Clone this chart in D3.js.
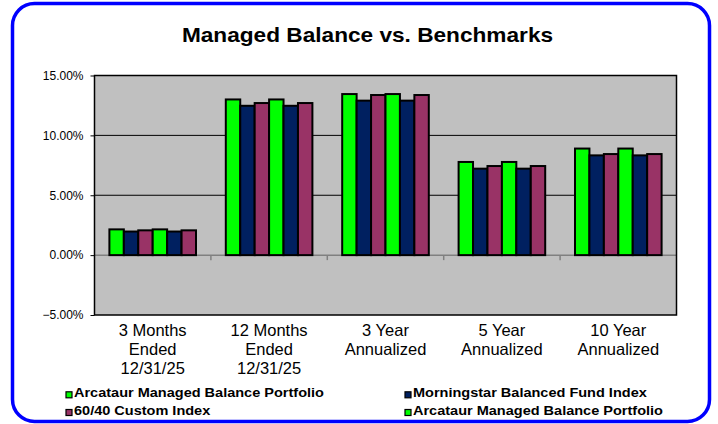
<!DOCTYPE html>
<html>
<head>
<meta charset="utf-8">
<script src="https://cdn.jsdelivr.net/npm/d3@7"></script>
<style>
  body { margin: 0; background: #fff; }
  svg { display: block; font-family: "Liberation Sans", Arial, sans-serif; }
</style>
</head>
<body>
<div id="chart"></div>
<script>
// chart data
var categories = [
    ["3 Months", "Ended", "12/31/25"],
    ["12 Months", "Ended", "12/31/25"],
    ["3 Year", "Annualized"],
    ["5 Year", "Annualized"],
    ["10 Year", "Annualized"]
];
var seriesNames = [
    "Arcataur Managed Balance Portfolio",
    "Morningstar Balanced Fund Index",
    "60/40 Custom Index",
    "Arcataur Managed Balance Portfolio",
    "Morningstar Balanced Fund Index",
    "60/40 Custom Index"
];
var arcataur1    = [2.15, 13.00, 13.45, 7.78, 8.90];
var morningstar1 = [1.97, 12.47, 12.90, 7.22, 8.33];
var custom1      = [2.07, 12.70, 13.37, 7.44, 8.44];
var arcataur2    = [2.15, 13.00, 13.45, 7.78, 8.90];
var morningstar2 = [1.97, 12.47, 12.90, 7.22, 8.33];
var custom2      = [2.07, 12.70, 13.37, 7.44, 8.44];
var series = [arcataur1, morningstar1, custom1, arcataur2, morningstar2, custom2];
var yTicks = [-5, 0, 5, 10, 15];
var legendCount = 4; // only four entries fit in the box

var colors = ["#00ff00", "#002060", "#993366", "#00ff00", "#002060", "#993366"];

const width = 718, height = 424;
const plot = {left: 94.5, right: 676.5, top: 75.5, bottom: 315};

const svg = d3.select("#chart").append("svg")
    .attr("width", width)
    .attr("height", height);

// blue rounded frame
svg.append("rect")
    .attr("x", 12.5).attr("y", 3.5)
    .attr("width", 697).attr("height", 418)
    .attr("rx", 22).attr("ry", 22)
    .style("fill", "#fff")
    .style("stroke", "#0000ff")
    .style("stroke-width", 3.5);

// stretch bold text a little, the original font is wider
function stretch(sel, k) {
    sel.each(function() {
        var len = this.getComputedTextLength();
        d3.select(this).attr("textLength", len * k).attr("lengthAdjust", "spacingAndGlyphs");
    });
}

svg.append("text")
    .attr("x", 367.5).attr("y", 41.7)
    .attr("text-anchor", "middle")
    .style("font-size", "21px").style("font-weight", "bold")
    .text("Managed Balance vs. Benchmarks")
    .call(stretch, 1.078);

const x = d3.scaleBand()
    .domain(d3.range(categories.length))
    .range([plot.left, plot.right]);

const xInner = d3.scaleBand()
    .domain(d3.range(series.length))
    .range([x.bandwidth() * 0.128, x.bandwidth() * 0.872]);

const y = d3.scaleLinear()
    .domain([-5, 15])
    .range([plot.bottom, plot.top]);

// plot background
svg.append("rect")
    .attr("x", plot.left).attr("y", plot.top)
    .attr("width", plot.right - plot.left)
    .attr("height", plot.bottom - plot.top)
    .style("fill", "#c0c0c0");

// gridlines
svg.append("g").selectAll("line")
    .data(yTicks.filter(function(d) { return d > 0 && d < 15; }))
    .enter().append("line")
    .attr("x1", plot.left).attr("x2", plot.right)
    .attr("y1", function(d) { return y(d); })
    .attr("y2", function(d) { return y(d); })
    .style("stroke", "#000").style("stroke-width", 1);

// zero line with category ticks
svg.append("line")
    .attr("x1", plot.left).attr("x2", plot.right)
    .attr("y1", y(0)).attr("y2", y(0))
    .style("stroke", "#808080").style("stroke-width", 1.5);
svg.append("g").selectAll("line")
    .data(d3.range(1, categories.length))
    .enter().append("line")
    .attr("x1", function(d) { return x(d); })
    .attr("x2", function(d) { return x(d); })
    .attr("y1", y(0)).attr("y2", y(0) + 5)
    .style("stroke", "#808080").style("stroke-width", 1.5);

// bars
const groups = svg.append("g").selectAll("g")
    .data(categories)
    .enter().append("g")
    .attr("transform", function(d, i) { return "translate(" + x(i) + ",0)"; });

groups.selectAll("rect")
    .data(function(d, i) { return series.map(function(s, j) { return {s: j, v: s[i]}; }); })
    .enter().append("rect")
    .attr("x", function(d) { return xInner(d.s); })
    .attr("width", xInner.bandwidth())
    .attr("y", function(d) { return y(Math.max(0, d.v)); })
    .attr("height", function(d) { return Math.abs(y(d.v) - y(0)); })
    .style("fill", function(d) { return colors[d.s]; })
    .style("stroke", "#000")
    .style("stroke-width", 2);

// plot border
svg.append("rect")
    .attr("x", plot.left).attr("y", plot.top)
    .attr("width", plot.right - plot.left)
    .attr("height", plot.bottom - plot.top)
    .style("fill", "none")
    .style("stroke", "#000").style("stroke-width", 1.5);

// y axis
const yAxis = d3.axisLeft(y)
    .tickValues(yTicks)
    .tickSize(4)
    .tickPadding(7)
    .tickFormat(function(d) { return d3.format(".2f")(d) + "%"; });

const yg = svg.append("g")
    .attr("transform", "translate(" + plot.left + ",0)")
    .call(yAxis);
yg.select(".domain").remove();
yg.selectAll("line").style("stroke", "#000");
yg.selectAll("text")
    .style("font-size", "12px")
    .style("font-family", "'Liberation Sans', Arial, sans-serif")
    .attr("fill", "#000");

// category labels
const labels = svg.append("g").selectAll("text")
    .data(categories)
    .enter().append("text")
    .attr("text-anchor", "middle")
    .attr("x", function(d, i) { return x(i) + x.bandwidth() / 2; })
    .attr("y", 336)
    .style("font-size", "16.5px");

labels.selectAll("tspan")
    .data(function(d) { return d; })
    .enter().append("tspan")
    .attr("x", function() { return d3.select(this.parentNode).attr("x"); })
    .attr("dy", function(d, i) { return i === 0 ? 0 : 19; })
    .text(function(d) { return d; });

// legend
const legendCols = [66, 405];
const legendRows = [397.3, 415];
const legend = svg.append("g").selectAll("g")
    .data(seriesNames.slice(0, legendCount))
    .enter().append("g")
    .attr("transform", function(d, i) {
        return "translate(" + legendCols[i % 2] + "," + legendRows[Math.floor(i / 2)] + ")";
    });

legend.append("rect")
    .attr("x", 0).attr("y", -5.5)
    .attr("width", 6).attr("height", 6)
    .style("fill", function(d, i) { return colors[i]; })
    .style("stroke", "#000").style("stroke-width", 1.2);

legend.append("text")
    .attr("x", 8).attr("y", 0)
    .style("font-size", "13px").style("font-weight", "bold")
    .text(function(d) { return d; })
    .call(stretch, 1.116);
</script>
</body>
</html>
